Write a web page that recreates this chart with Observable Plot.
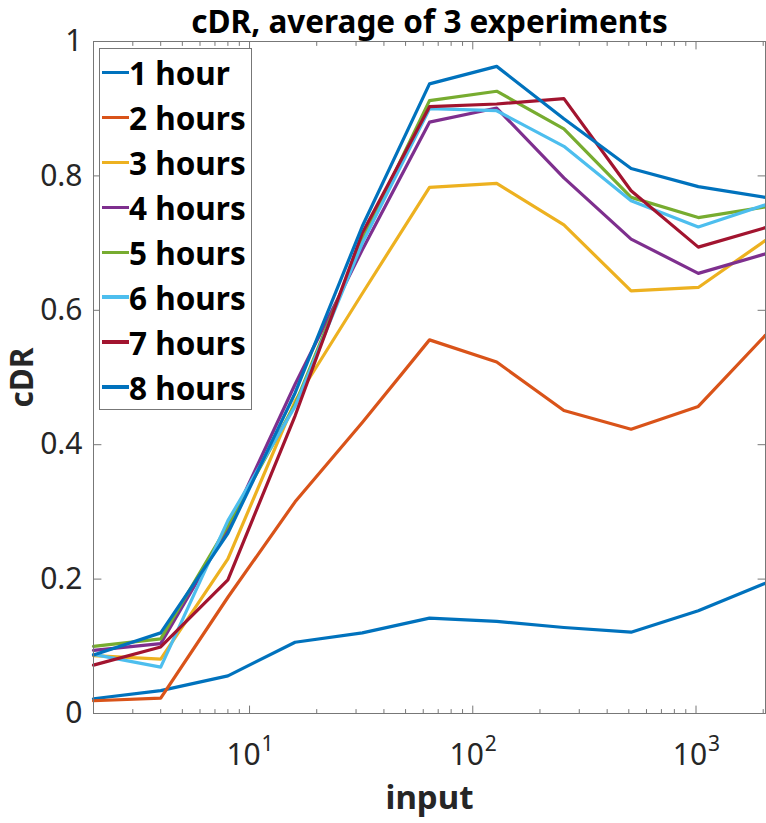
<!DOCTYPE html>
<html><head><meta charset="utf-8">
<script src="https://cdn.jsdelivr.net/npm/d3@7"></script>
<script src="https://cdn.jsdelivr.net/npm/@observablehq/plot@0.6"></script>
<style>
html,body{margin:0;padding:0;background:#fff;}
#wrap{position:relative;width:766px;height:823px;font-family:"Noto Sans",sans-serif;overflow:hidden;}
#legend{position:absolute;left:99px;top:48px;width:153px;height:362px;box-sizing:border-box;border:1px solid #777;background:#fff;}
.row{position:absolute;left:0;height:40px;display:flex;align-items:center;font-weight:bold;font-size:31.5px;color:#000;white-space:nowrap;}
.sw{width:27px;height:3.5px;margin-left:2px;margin-right:0px;}
</style></head>
<body><div id="wrap"></div>
<script>
const inputs = [2, 4, 8, 16, 32, 64, 128, 256, 512, 1024, 2048];
const seriesNames = ["1 hour", "2 hours", "3 hours", "4 hours", "5 hours", "6 hours", "7 hours", "8 hours"];
const seriesColors = ["#0072BD", "#D95319", "#EDB120", "#7E2F8E", "#77AC30", "#4DBEEE", "#A2142F", "#0072BD"];

const hour1 = [0.022, 0.034, 0.056, 0.106, 0.120, 0.142, 0.137, 0.128, 0.121, 0.153, 0.194];
const hour2 = [0.019, 0.023, 0.173, 0.315, 0.433, 0.556, 0.523, 0.451, 0.423, 0.457, 0.563];
const hour3 = [0.086, 0.081, 0.230, 0.465, 0.625, 0.783, 0.789, 0.727, 0.629, 0.634, 0.704];
const hour4 = [0.094, 0.104, 0.275, 0.490, 0.690, 0.880, 0.901, 0.797, 0.706, 0.655, 0.684];
const hour5 = [0.100, 0.111, 0.280, 0.460, 0.705, 0.912, 0.926, 0.870, 0.768, 0.738, 0.754];
const hour6 = [0.088, 0.069, 0.287, 0.457, 0.700, 0.900, 0.897, 0.844, 0.763, 0.724, 0.757];
const hour7 = [0.072, 0.099, 0.199, 0.443, 0.715, 0.903, 0.907, 0.915, 0.778, 0.694, 0.723];
const hour8 = [0.087, 0.120, 0.268, 0.477, 0.725, 0.937, 0.963, 0.885, 0.811, 0.784, 0.768];
const allSeries = [hour1, hour2, hour3, hour4, hour5, hour6, hour7, hour8];

const yTicks = [0, 0.2, 0.4, 0.6, 0.8, 1];
const yTickLabels = ["0", "0.2", "0.4", "0.6", "0.8", "1"];
const xMajorTicks = [10, 100, 1000];
const xMajorBase = ["10", "10", "10"];
const xMajorExp = ["1", "2", "3"];
const xMinorTicks = [2, 3, 4, 5, 6, 7, 8, 9, 20, 30, 40, 50, 60, 70, 80, 90, 200, 300, 400, 500, 600, 700, 800, 900, 2000];

const titleText = "cDR, average of 3 experiments";
const xLabel = "input";
const yLabel = "cDR";

const rows = [];
allSeries.forEach((vals, i) => vals.forEach((v, j) => rows.push({input: inputs[j], cdr: v, series: seriesNames[i]})));

const axisColor = "#777";
const textColor = "#262626";
const tickShape = (ux, uy) => ({draw(ctx, l) { ctx.moveTo(0, 0); ctx.lineTo(ux * l, uy * l); }});
const up = tickShape(0, -1), down = tickShape(0, 1), right = tickShape(1, 0), left = tickShape(-1, 0);
const xMin = inputs[0], xMax = inputs[inputs.length - 1];
const tickOpts = {anchor: "start", stroke: axisColor, strokeWidth: 1};

const chart = Plot.plot({
  width: 766, height: 823,
  marginLeft: 93, marginRight: 1, marginTop: 41, marginBottom: 110,
  x: {type: "log", domain: [xMin, xMax], axis: null},
  y: {domain: [0, 1], axis: null},
  color: {domain: seriesNames, range: seriesColors},
  style: {fontFamily: "'Noto Sans', sans-serif", background: "white", overflow: "visible"},
  marks: [
    Plot.line(rows, {x: "input", y: "cdr", z: "series", stroke: "series", strokeWidth: 3.2}),
    Plot.frame({stroke: axisColor, strokeWidth: 1}),
    Plot.vector(xMajorTicks, {x: d => d, y: 0, length: 7.5, shape: up, ...tickOpts}),
    Plot.vector(xMinorTicks, {x: d => d, y: 0, length: 4, shape: up, ...tickOpts}),
    Plot.vector(xMajorTicks, {x: d => d, y: 1, length: 7.5, shape: down, ...tickOpts}),
    Plot.vector(xMinorTicks, {x: d => d, y: 1, length: 4, shape: down, ...tickOpts}),
    Plot.vector(yTicks, {x: xMin, y: d => d, length: 7.5, shape: right, ...tickOpts}),
    Plot.vector(yTicks, {x: xMax, y: d => d, length: 7.5, shape: left, ...tickOpts}),
    Plot.text(yTicks, {x: xMin, y: d => d, text: (d, i) => yTickLabels[i], dx: -11, textAnchor: "end", lineAnchor: "middle", fontSize: 30, fill: textColor}),
    Plot.text(xMajorTicks, {x: d => d, y: 0, text: (d, i) => xMajorBase[i], dx: -6, dy: 51, textAnchor: "middle", lineAnchor: "bottom", fontSize: 30, fill: textColor}),
    Plot.text(xMajorTicks, {x: d => d, y: 0, text: (d, i) => xMajorExp[i], dx: 12, dy: 37, textAnchor: "start", lineAnchor: "bottom", fontSize: 21, fill: textColor}),
    Plot.text([titleText], {frameAnchor: "top", dy: -9, lineAnchor: "bottom", fontWeight: "bold", fontSize: 31.5, fill: "#000"}),
    Plot.text([xLabel], {frameAnchor: "bottom", dy: 95, lineAnchor: "bottom", fontWeight: "bold", fontSize: 33, fill: textColor}),
    Plot.text([yLabel], {frameAnchor: "left", dx: -71, rotate: -90, textAnchor: "middle", lineAnchor: "middle", fontWeight: "bold", fontSize: 31.5, fill: textColor})
  ]
});

const wrap = document.getElementById("wrap");
wrap.appendChild(chart);

const legend = document.createElement("div");
legend.id = "legend";
seriesNames.forEach((name, i) => {
  const row = document.createElement("div");
  row.className = "row";
  row.style.top = (72.7 + i * 44.9 - 20 - 49) + "px";
  const sw = document.createElement("div");
  sw.className = "sw";
  sw.style.background = seriesColors[i];
  const label = document.createElement("span");
  label.textContent = name;
  row.appendChild(sw);
  row.appendChild(label);
  legend.appendChild(row);
});
wrap.appendChild(legend);
</script>
</body></html>
